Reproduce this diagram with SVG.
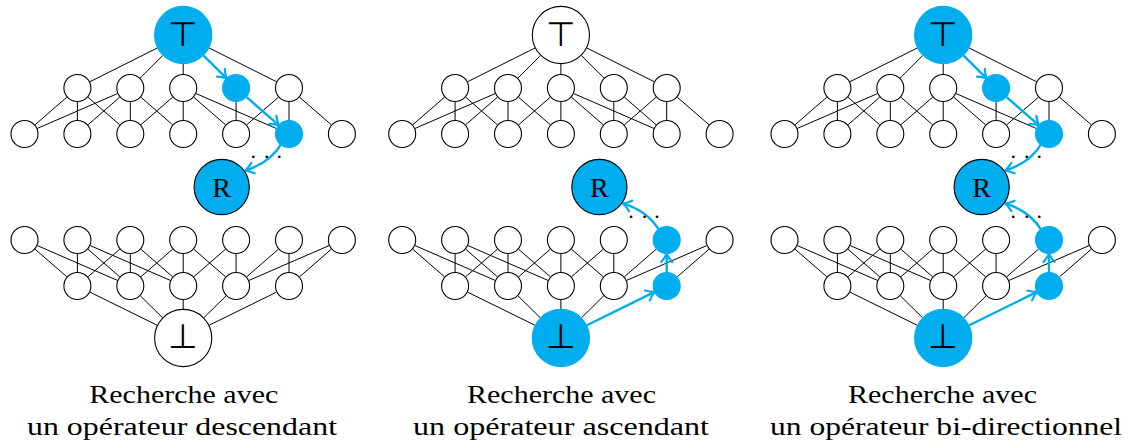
<svg xmlns="http://www.w3.org/2000/svg" width="1134" height="448" viewBox="0 0 1134 448">
<style>
.n{fill:#fff;stroke:#000;stroke-width:1.1}
.b{fill:#00ADEF;stroke:#00ADEF;stroke-width:1.1}
.rb{fill:#00ADEF;stroke:#000;stroke-width:1.1}
.e line{stroke:#000;stroke-width:1;fill:none}
.a{stroke:#00ADEF;stroke-width:2.4;fill:none;marker-end:url(#arr)}
.sym{font-family:"DejaVu Sans",sans-serif;font-weight:200;font-size:34px;text-anchor:middle;fill:#000}
.lbl{font-family:"Liberation Serif",serif;font-size:28px;text-anchor:middle;fill:#000}
.cap{font-family:"Liberation Serif",serif;font-size:26px;fill:#000}
.dots{font-family:"Liberation Serif",serif;font-size:22px;text-anchor:middle;fill:#000}
</style>
<defs>
<marker id="arr" markerUnits="userSpaceOnUse" markerWidth="20" markerHeight="20" viewBox="-10 -10 20 20" refX="0" refY="0" orient="auto" overflow="visible">
<path d="M-7.5,-5.5 Q-2.5,-1.2 0.8,0 Q-2.5,1.2 -7.5,5.5" fill="none" stroke="#00ADEF" stroke-width="2.2" stroke-linecap="round" stroke-linejoin="round"/>
</marker>
</defs>

<!-- ================= PANEL 1 ================= -->
<g id="panel1">
<g id="p1-connectors" class="e">
<line x1="157.27" y1="47.99" x2="89.92" y2="81.73"/>
<line x1="162.71" y1="55.53" x2="140.19" y2="78.09"/>
<line x1="183.2" y1="64" x2="183.2" y2="74"/>
<line x1="209.13" y1="47.99" x2="276.48" y2="81.73"/>
<line x1="66.84" y1="97.19" x2="35.06" y2="124.81"/>
<line x1="77.4" y1="102" x2="77.4" y2="120"/>
<line x1="87.96" y1="97.19" x2="119.74" y2="124.81"/>
<line x1="117.46" y1="93.58" x2="37.34" y2="128.42"/>
<line x1="119.74" y1="97.19" x2="87.96" y2="124.81"/>
<line x1="130.3" y1="102" x2="130.3" y2="120"/>
<line x1="140.86" y1="97.19" x2="172.64" y2="124.81"/>
<line x1="172.64" y1="97.19" x2="140.86" y2="124.81"/>
<line x1="183.2" y1="102" x2="183.2" y2="120"/>
<line x1="193.76" y1="97.19" x2="225.54" y2="124.81"/>
<line x1="196.04" y1="93.58" x2="276.16" y2="128.42"/>
<line x1="236.1" y1="102" x2="236.1" y2="120"/>
<line x1="278.44" y1="97.19" x2="246.66" y2="124.81"/>
<line x1="289" y1="102" x2="289" y2="120"/>
<line x1="299.56" y1="97.19" x2="331.34" y2="124.81"/>
<line x1="35.06" y1="249.19" x2="66.84" y2="276.81"/>
<line x1="37.34" y1="245.58" x2="117.46" y2="280.42"/>
<line x1="77.4" y1="254" x2="77.4" y2="272"/>
<line x1="87.96" y1="249.19" x2="119.74" y2="276.81"/>
<line x1="90.24" y1="245.58" x2="170.36" y2="280.42"/>
<line x1="119.74" y1="249.19" x2="87.96" y2="276.81"/>
<line x1="130.3" y1="254" x2="130.3" y2="272"/>
<line x1="140.86" y1="249.19" x2="172.64" y2="276.81"/>
<line x1="172.64" y1="249.19" x2="140.86" y2="276.81"/>
<line x1="183.2" y1="254" x2="183.2" y2="272"/>
<line x1="193.76" y1="249.19" x2="225.54" y2="276.81"/>
<line x1="225.54" y1="249.19" x2="193.76" y2="276.81"/>
<line x1="236.1" y1="254" x2="236.1" y2="272"/>
<line x1="278.44" y1="249.19" x2="246.66" y2="276.81"/>
<line x1="329.06" y1="245.58" x2="248.94" y2="280.42"/>
<line x1="331.34" y1="249.19" x2="299.56" y2="276.81"/>
<line x1="89.96" y1="292.18" x2="157.17" y2="325.21"/>
<line x1="140.28" y1="295.81" x2="162.52" y2="317.67"/>
<line x1="183.2" y1="300" x2="183.2" y2="309"/>
<line x1="226.12" y1="295.81" x2="203.88" y2="317.67"/>
<line x1="289" y1="254" x2="289" y2="272"/>
<line x1="276.44" y1="292.18" x2="209.23" y2="325.21"/>
<path class="a" d="M203.69,55.53 L226.21,78.09"/>
<path class="a" d="M246.66,97.19 L278.44,124.81"/>
<path class="a" d="M281.7,143.3 C276,153 266,164 245.8,170.3"/>
<text class="dots" x="253.3 266.7 279.3" y="158.2">...</text>
</g>
<g id="p1-top"><circle class="b" cx="183.2" cy="35" r="28.6"/><text class="sym" x="183.2" y="46">⊤</text></g>
<g id="p1-a1"><circle class="n" cx="77.4" cy="88" r="13.5"/></g>
<g id="p1-a2"><circle class="n" cx="130.3" cy="88" r="13.5"/></g>
<g id="p1-a3"><circle class="n" cx="183.2" cy="88" r="13.5"/></g>
<g id="p1-a4"><circle class="b" cx="236.1" cy="88" r="13.5"/></g>
<g id="p1-a5"><circle class="n" cx="289" cy="88" r="13.5"/></g>
<g id="p1-b0"><circle class="n" cx="24.5" cy="134" r="13.5"/></g>
<g id="p1-b1"><circle class="n" cx="77.4" cy="134" r="13.5"/></g>
<g id="p1-b2"><circle class="n" cx="130.3" cy="134" r="13.5"/></g>
<g id="p1-b3"><circle class="n" cx="183.2" cy="134" r="13.5"/></g>
<g id="p1-b4"><circle class="n" cx="236.1" cy="134" r="13.5"/></g>
<g id="p1-b5"><circle class="b" cx="289" cy="134" r="13.5"/></g>
<g id="p1-b6"><circle class="n" cx="341.9" cy="134" r="13.5"/></g>
<g id="p1-R"><circle class="rb" cx="221.7" cy="187" r="27.6"/><text class="lbl" x="221.7" y="197">R</text></g>
<g id="p1-c0"><circle class="n" cx="24.5" cy="240" r="13.5"/></g>
<g id="p1-c1"><circle class="n" cx="77.4" cy="240" r="13.5"/></g>
<g id="p1-c2"><circle class="n" cx="130.3" cy="240" r="13.5"/></g>
<g id="p1-c3"><circle class="n" cx="183.2" cy="240" r="13.5"/></g>
<g id="p1-c4"><circle class="n" cx="236.1" cy="240" r="13.5"/></g>
<g id="p1-c5"><circle class="n" cx="289" cy="240" r="13.5"/></g>
<g id="p1-c6"><circle class="n" cx="341.9" cy="240" r="13.5"/></g>
<g id="p1-d1"><circle class="n" cx="77.4" cy="286" r="13.5"/></g>
<g id="p1-d2"><circle class="n" cx="130.3" cy="286" r="13.5"/></g>
<g id="p1-d3"><circle class="n" cx="183.2" cy="286" r="13.5"/></g>
<g id="p1-d4"><circle class="n" cx="236.1" cy="286" r="13.5"/></g>
<g id="p1-d5"><circle class="n" cx="289" cy="286" r="13.5"/></g>
<g id="p1-bot"><circle class="n" cx="183.2" cy="338" r="28.6"/><text class="sym" x="183.2" y="348.3">⊥</text></g>
<text class="cap" x="89.3" y="403" textLength="189" lengthAdjust="spacingAndGlyphs">Recherche avec</text>
<text class="cap" x="27" y="435" textLength="310" lengthAdjust="spacingAndGlyphs">un opérateur descendant</text>
</g>

<!-- ================= PANEL 2 ================= -->
<g id="panel2" transform="translate(377.7,0)">
<g id="p2-connectors" class="e">
<line x1="157.27" y1="47.99" x2="89.92" y2="81.73"/>
<line x1="162.71" y1="55.53" x2="140.19" y2="78.09"/>
<line x1="183.2" y1="64" x2="183.2" y2="74"/>
<line x1="209.13" y1="47.99" x2="276.48" y2="81.73"/>
<line x1="203.69" y1="55.53" x2="226.21" y2="78.09"/>
<line x1="66.84" y1="97.19" x2="35.06" y2="124.81"/>
<line x1="77.4" y1="102" x2="77.4" y2="120"/>
<line x1="87.96" y1="97.19" x2="119.74" y2="124.81"/>
<line x1="117.46" y1="93.58" x2="37.34" y2="128.42"/>
<line x1="119.74" y1="97.19" x2="87.96" y2="124.81"/>
<line x1="130.3" y1="102" x2="130.3" y2="120"/>
<line x1="140.86" y1="97.19" x2="172.64" y2="124.81"/>
<line x1="172.64" y1="97.19" x2="140.86" y2="124.81"/>
<line x1="183.2" y1="102" x2="183.2" y2="120"/>
<line x1="193.76" y1="97.19" x2="225.54" y2="124.81"/>
<line x1="196.04" y1="93.58" x2="276.16" y2="128.42"/>
<line x1="236.1" y1="102" x2="236.1" y2="120"/>
<line x1="246.66" y1="97.19" x2="278.44" y2="124.81"/>
<line x1="278.44" y1="97.19" x2="246.66" y2="124.81"/>
<line x1="289" y1="102" x2="289" y2="120"/>
<line x1="299.56" y1="97.19" x2="331.34" y2="124.81"/>
<line x1="35.06" y1="249.19" x2="66.84" y2="276.81"/>
<line x1="37.34" y1="245.58" x2="117.46" y2="280.42"/>
<line x1="77.4" y1="254" x2="77.4" y2="272"/>
<line x1="87.96" y1="249.19" x2="119.74" y2="276.81"/>
<line x1="90.24" y1="245.58" x2="170.36" y2="280.42"/>
<line x1="119.74" y1="249.19" x2="87.96" y2="276.81"/>
<line x1="130.3" y1="254" x2="130.3" y2="272"/>
<line x1="140.86" y1="249.19" x2="172.64" y2="276.81"/>
<line x1="172.64" y1="249.19" x2="140.86" y2="276.81"/>
<line x1="183.2" y1="254" x2="183.2" y2="272"/>
<line x1="193.76" y1="249.19" x2="225.54" y2="276.81"/>
<line x1="225.54" y1="249.19" x2="193.76" y2="276.81"/>
<line x1="236.1" y1="254" x2="236.1" y2="272"/>
<line x1="278.44" y1="249.19" x2="246.66" y2="276.81"/>
<line x1="329.06" y1="245.58" x2="248.94" y2="280.42"/>
<line x1="331.34" y1="249.19" x2="299.56" y2="276.81"/>
<line x1="89.96" y1="292.18" x2="157.17" y2="325.21"/>
<line x1="140.28" y1="295.81" x2="162.52" y2="317.67"/>
<line x1="183.2" y1="300" x2="183.2" y2="309"/>
<line x1="226.12" y1="295.81" x2="203.88" y2="317.67"/>
<path class="a" d="M209.23,325.21 L276.44,292.18"/>
<path class="a" d="M289,272 L289,254.5"/>
<path class="a" d="M281.7,230.7 C276,221 266,210 245.8,203.7"/>
<text class="dots" x="253.3 266.7 279.3" y="218.2">...</text>
</g>
<g id="p2-top"><circle class="n" cx="183.2" cy="35" r="28.6"/><text class="sym" x="183.2" y="46">⊤</text></g>
<g id="p2-a1"><circle class="n" cx="77.4" cy="88" r="13.5"/></g>
<g id="p2-a2"><circle class="n" cx="130.3" cy="88" r="13.5"/></g>
<g id="p2-a3"><circle class="n" cx="183.2" cy="88" r="13.5"/></g>
<g id="p2-a4"><circle class="n" cx="236.1" cy="88" r="13.5"/></g>
<g id="p2-a5"><circle class="n" cx="289" cy="88" r="13.5"/></g>
<g id="p2-b0"><circle class="n" cx="24.5" cy="134" r="13.5"/></g>
<g id="p2-b1"><circle class="n" cx="77.4" cy="134" r="13.5"/></g>
<g id="p2-b2"><circle class="n" cx="130.3" cy="134" r="13.5"/></g>
<g id="p2-b3"><circle class="n" cx="183.2" cy="134" r="13.5"/></g>
<g id="p2-b4"><circle class="n" cx="236.1" cy="134" r="13.5"/></g>
<g id="p2-b5"><circle class="n" cx="289" cy="134" r="13.5"/></g>
<g id="p2-b6"><circle class="n" cx="341.9" cy="134" r="13.5"/></g>
<g id="p2-R"><circle class="rb" cx="221.7" cy="187" r="27.6"/><text class="lbl" x="221.7" y="197">R</text></g>
<g id="p2-c0"><circle class="n" cx="24.5" cy="240" r="13.5"/></g>
<g id="p2-c1"><circle class="n" cx="77.4" cy="240" r="13.5"/></g>
<g id="p2-c2"><circle class="n" cx="130.3" cy="240" r="13.5"/></g>
<g id="p2-c3"><circle class="n" cx="183.2" cy="240" r="13.5"/></g>
<g id="p2-c4"><circle class="n" cx="236.1" cy="240" r="13.5"/></g>
<g id="p2-c5"><circle class="b" cx="289" cy="240" r="13.5"/></g>
<g id="p2-c6"><circle class="n" cx="341.9" cy="240" r="13.5"/></g>
<g id="p2-d1"><circle class="n" cx="77.4" cy="286" r="13.5"/></g>
<g id="p2-d2"><circle class="n" cx="130.3" cy="286" r="13.5"/></g>
<g id="p2-d3"><circle class="n" cx="183.2" cy="286" r="13.5"/></g>
<g id="p2-d4"><circle class="n" cx="236.1" cy="286" r="13.5"/></g>
<g id="p2-d5"><circle class="b" cx="289" cy="286" r="13.5"/></g>
<g id="p2-bot"><circle class="b" cx="183.2" cy="338" r="28.6"/><text class="sym" x="183.2" y="348.3">⊥</text></g>
<text class="cap" x="89.3" y="403" textLength="189" lengthAdjust="spacingAndGlyphs">Recherche avec</text>
<text class="cap" x="35.3" y="435" textLength="296" lengthAdjust="spacingAndGlyphs">un opérateur ascendant</text>
</g>

<!-- ================= PANEL 3 ================= -->
<g id="panel3" transform="translate(760,0)">
<g id="p3-connectors" class="e">
<line x1="157.27" y1="47.99" x2="89.92" y2="81.73"/>
<line x1="162.71" y1="55.53" x2="140.19" y2="78.09"/>
<line x1="183.2" y1="64" x2="183.2" y2="74"/>
<line x1="209.13" y1="47.99" x2="276.48" y2="81.73"/>
<line x1="66.84" y1="97.19" x2="35.06" y2="124.81"/>
<line x1="77.4" y1="102" x2="77.4" y2="120"/>
<line x1="87.96" y1="97.19" x2="119.74" y2="124.81"/>
<line x1="117.46" y1="93.58" x2="37.34" y2="128.42"/>
<line x1="119.74" y1="97.19" x2="87.96" y2="124.81"/>
<line x1="130.3" y1="102" x2="130.3" y2="120"/>
<line x1="140.86" y1="97.19" x2="172.64" y2="124.81"/>
<line x1="172.64" y1="97.19" x2="140.86" y2="124.81"/>
<line x1="183.2" y1="102" x2="183.2" y2="120"/>
<line x1="193.76" y1="97.19" x2="225.54" y2="124.81"/>
<line x1="196.04" y1="93.58" x2="276.16" y2="128.42"/>
<line x1="236.1" y1="102" x2="236.1" y2="120"/>
<line x1="278.44" y1="97.19" x2="246.66" y2="124.81"/>
<line x1="289" y1="102" x2="289" y2="120"/>
<line x1="299.56" y1="97.19" x2="331.34" y2="124.81"/>
<line x1="35.06" y1="249.19" x2="66.84" y2="276.81"/>
<line x1="37.34" y1="245.58" x2="117.46" y2="280.42"/>
<line x1="77.4" y1="254" x2="77.4" y2="272"/>
<line x1="87.96" y1="249.19" x2="119.74" y2="276.81"/>
<line x1="90.24" y1="245.58" x2="170.36" y2="280.42"/>
<line x1="119.74" y1="249.19" x2="87.96" y2="276.81"/>
<line x1="130.3" y1="254" x2="130.3" y2="272"/>
<line x1="140.86" y1="249.19" x2="172.64" y2="276.81"/>
<line x1="172.64" y1="249.19" x2="140.86" y2="276.81"/>
<line x1="183.2" y1="254" x2="183.2" y2="272"/>
<line x1="193.76" y1="249.19" x2="225.54" y2="276.81"/>
<line x1="225.54" y1="249.19" x2="193.76" y2="276.81"/>
<line x1="236.1" y1="254" x2="236.1" y2="272"/>
<line x1="278.44" y1="249.19" x2="246.66" y2="276.81"/>
<line x1="329.06" y1="245.58" x2="248.94" y2="280.42"/>
<line x1="331.34" y1="249.19" x2="299.56" y2="276.81"/>
<line x1="89.96" y1="292.18" x2="157.17" y2="325.21"/>
<line x1="140.28" y1="295.81" x2="162.52" y2="317.67"/>
<line x1="183.2" y1="300" x2="183.2" y2="309"/>
<line x1="226.12" y1="295.81" x2="203.88" y2="317.67"/>
<path class="a" d="M203.69,55.53 L226.21,78.09"/>
<path class="a" d="M246.66,97.19 L278.44,124.81"/>
<path class="a" d="M281.7,143.3 C276,153 266,164 245.8,170.3"/>
<path class="a" d="M209.23,325.21 L276.44,292.18"/>
<path class="a" d="M289,272 L289,254.5"/>
<path class="a" d="M281.7,230.7 C276,221 266,210 245.8,203.7"/>
<text class="dots" x="253.3 266.7 279.3" y="158.2">...</text>
<text class="dots" x="253.3 266.7 279.3" y="218.2">...</text>
</g>
<g id="p3-top"><circle class="b" cx="183.2" cy="35" r="28.6"/><text class="sym" x="183.2" y="46">⊤</text></g>
<g id="p3-a1"><circle class="n" cx="77.4" cy="88" r="13.5"/></g>
<g id="p3-a2"><circle class="n" cx="130.3" cy="88" r="13.5"/></g>
<g id="p3-a3"><circle class="n" cx="183.2" cy="88" r="13.5"/></g>
<g id="p3-a4"><circle class="b" cx="236.1" cy="88" r="13.5"/></g>
<g id="p3-a5"><circle class="n" cx="289" cy="88" r="13.5"/></g>
<g id="p3-b0"><circle class="n" cx="24.5" cy="134" r="13.5"/></g>
<g id="p3-b1"><circle class="n" cx="77.4" cy="134" r="13.5"/></g>
<g id="p3-b2"><circle class="n" cx="130.3" cy="134" r="13.5"/></g>
<g id="p3-b3"><circle class="n" cx="183.2" cy="134" r="13.5"/></g>
<g id="p3-b4"><circle class="n" cx="236.1" cy="134" r="13.5"/></g>
<g id="p3-b5"><circle class="b" cx="289" cy="134" r="13.5"/></g>
<g id="p3-b6"><circle class="n" cx="341.9" cy="134" r="13.5"/></g>
<g id="p3-R"><circle class="rb" cx="221.7" cy="187" r="27.6"/><text class="lbl" x="221.7" y="197">R</text></g>
<g id="p3-c0"><circle class="n" cx="24.5" cy="240" r="13.5"/></g>
<g id="p3-c1"><circle class="n" cx="77.4" cy="240" r="13.5"/></g>
<g id="p3-c2"><circle class="n" cx="130.3" cy="240" r="13.5"/></g>
<g id="p3-c3"><circle class="n" cx="183.2" cy="240" r="13.5"/></g>
<g id="p3-c4"><circle class="n" cx="236.1" cy="240" r="13.5"/></g>
<g id="p3-c5"><circle class="b" cx="289" cy="240" r="13.5"/></g>
<g id="p3-c6"><circle class="n" cx="341.9" cy="240" r="13.5"/></g>
<g id="p3-d1"><circle class="n" cx="77.4" cy="286" r="13.5"/></g>
<g id="p3-d2"><circle class="n" cx="130.3" cy="286" r="13.5"/></g>
<g id="p3-d3"><circle class="n" cx="183.2" cy="286" r="13.5"/></g>
<g id="p3-d4"><circle class="n" cx="236.1" cy="286" r="13.5"/></g>
<g id="p3-d5"><circle class="b" cx="289" cy="286" r="13.5"/></g>
<g id="p3-bot"><circle class="b" cx="183.2" cy="338" r="28.6"/><text class="sym" x="183.2" y="348.3">⊥</text></g>
<text class="cap" x="88" y="403" textLength="189" lengthAdjust="spacingAndGlyphs">Recherche avec</text>
<text class="cap" x="10" y="435" textLength="352" lengthAdjust="spacingAndGlyphs">un opérateur bi-directionnel</text>
</g>
</svg>
